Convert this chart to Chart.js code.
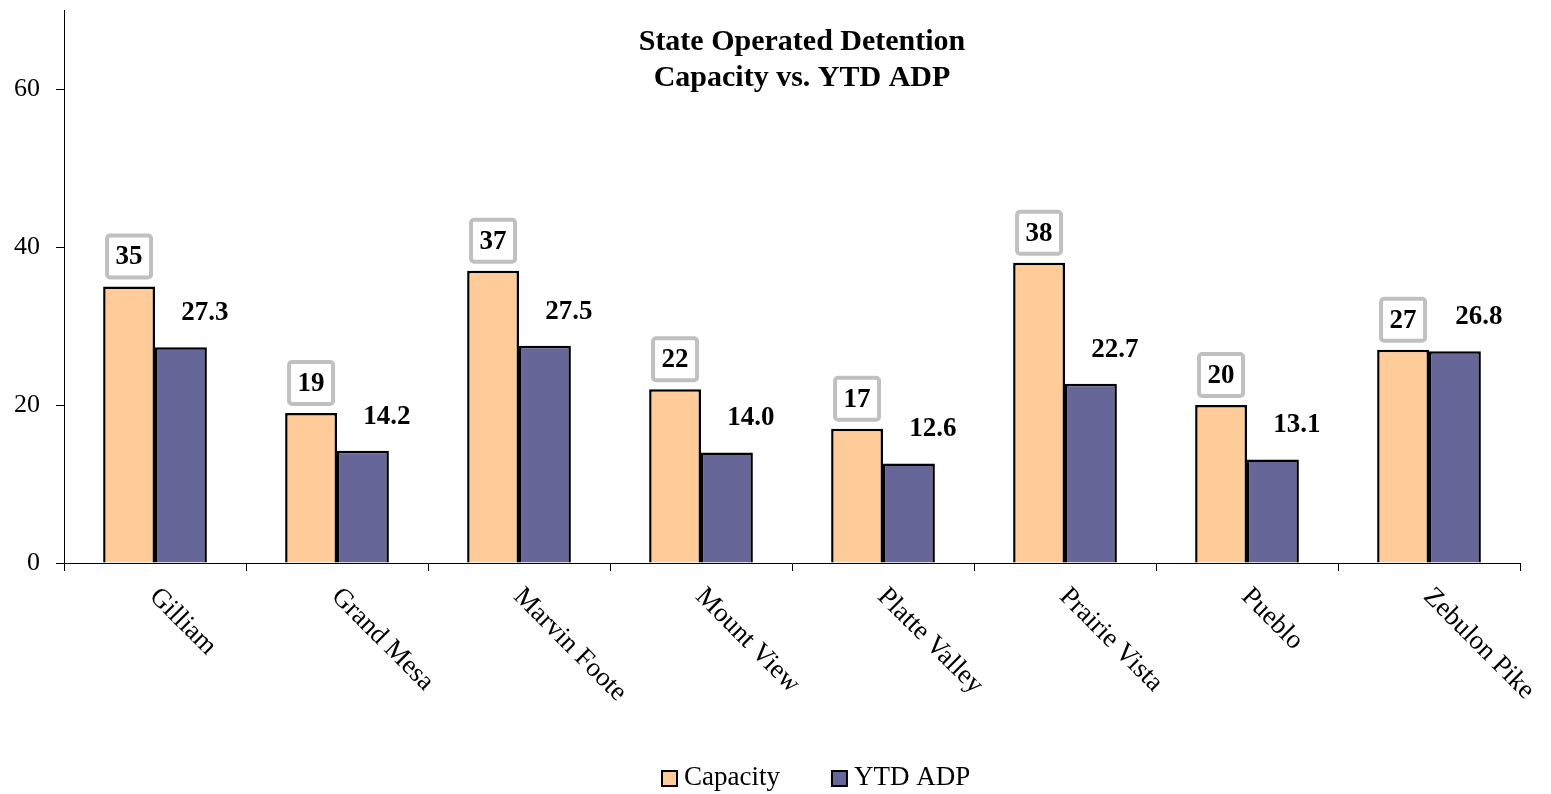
<!DOCTYPE html>
<html lang="en">
<head>
    <meta charset="UTF-8">
    <title>State Operated Detention</title>
    <script src="https://cdn.jsdelivr.net/npm/chart.js"></script>
    <style>
        html, body { margin: 0; padding: 0; background: #fff; }
        #wrap { width: 1551px; height: 794px; }
    </style>
</head>
<body>
    <div id="wrap"><canvas id="detentionChart"></canvas></div>
    <script>
        const facilities = ['Gilliam', 'Grand Mesa', 'Marvin Foote', 'Mount View', 'Platte Valley', 'Prairie Vista', 'Pueblo', 'Zebulon Pike'];
        const capacity = [35, 19, 37, 22, 17, 38, 20, 27];
        const ytdAdp = [27.3, 14.2, 27.5, 14.0, 12.6, 22.7, 13.1, 26.8];
        const yTicks = [0, 20, 40, 60];
        const titleLines = ['State Operated Detention', 'Capacity vs. YTD ADP'];

        const FONT = '"Liberation Serif", "DejaVu Serif", serif';

        // title, rotated category names, value labels and legend
        const overlay = {
            id: 'overlay',
            afterDraw(chart) {
                const ctx = chart.ctx;
                const xs = chart.scales.x;
                const area = chart.chartArea;
                ctx.save();
                ctx.fillStyle = '#000';

                // title
                ctx.font = 'bold 30px ' + FONT;
                ctx.textAlign = 'center';
                ctx.textBaseline = 'middle';
                titleLines.forEach((t, i) => ctx.fillText(t, 802, 42 + i * 36));

                // category labels, rotated down to the right
                ctx.font = '27px ' + FONT;
                ctx.textAlign = 'left';
                ctx.textBaseline = 'top';
                facilities.forEach((name, i) => {
                    const x = xs.getPixelForValue(i);
                    ctx.save();
                    ctx.translate(x + 8, area.bottom + 20);
                    ctx.rotate(Math.PI / 4);
                    ctx.fillText(name, 0, 0);
                    ctx.restore();
                });

                // value labels
                ctx.font = 'bold 27px ' + FONT;
                ctx.textAlign = 'center';
                ctx.textBaseline = 'middle';
                const capMeta = chart.getDatasetMeta(0);
                capMeta.data.forEach((bar, i) => {
                    const cx = bar.x;
                    const cy = bar.y - 30;
                    ctx.strokeStyle = '#c0c0c0';
                    ctx.lineWidth = 4;
                    ctx.beginPath();
                    ctx.roundRect(cx - 22, cy - 21, 44, 42, 3);
                    ctx.stroke();
                    ctx.fillStyle = '#000';
                    ctx.fillText(String(capacity[i]), cx, cy + 1);
                });
                const adpMeta = chart.getDatasetMeta(1);
                adpMeta.data.forEach((bar, i) => {
                    ctx.fillText(ytdAdp[i].toFixed(1), bar.x + 24, bar.y - 34);
                });

                // legend
                ctx.font = '27px ' + FONT;
                ctx.textAlign = 'left';
                ctx.textBaseline = 'middle';
                let lx = 662;
                const ly = 778;
                chart.data.datasets.forEach(ds => {
                    ctx.fillStyle = ds.backgroundColor;
                    ctx.fillRect(lx, ly - 7, 15, 15);
                    ctx.strokeStyle = '#000';
                    ctx.lineWidth = 2;
                    ctx.strokeRect(lx, ly - 7, 15, 15);
                    ctx.fillStyle = '#000';
                    ctx.fillText(ds.label, lx + 22, ly);
                    lx += 22 + ctx.measureText(ds.label).width + 52;
                });
                ctx.restore();
            }
        };

        const ctx = document.getElementById('detentionChart').getContext('2d');
        const detentionChart = new Chart(ctx, {
            type: 'bar',
            data: {
                labels: facilities,
                datasets: [{
                    label: 'Capacity',
                    data: capacity,
                    backgroundColor: '#ffcc99',
                    borderColor: '#000',
                    borderWidth: 2.5
                }, {
                    label: 'YTD ADP',
                    data: ytdAdp,
                    backgroundColor: '#666699',
                    borderColor: '#000',
                    borderWidth: 2.5
                }]
            },
            options: {
                responsive: true,
                maintainAspectRatio: false,
                animation: false,
                layout: { padding: { top: 10, right: 31, left: 0, bottom: 0 } },
                datasets: {
                    bar: { categoryPercentage: 0.57, barPercentage: 1 }
                },
                plugins: {
                    legend: { display: false },
                    title: { display: false },
                    tooltip: { enabled: false }
                },
                scales: {
                    x: {
                        offset: true,
                        grid: {
                            offset: true,
                            drawOnChartArea: false,
                            drawTicks: true,
                            tickLength: 8,
                            color: '#000'
                        },
                        border: { display: true, color: '#000', width: 1 },
                        ticks: { display: false },
                        afterFit: s => {
                            s.height = 231;
                            s.paddingLeft = 0;
                            s.paddingRight = 0;
                        }
                    },
                    y: {
                        min: 0,
                        max: 70,
                        grid: {
                            drawOnChartArea: false,
                            drawTicks: true,
                            tickLength: 8,
                            color: '#000'
                        },
                        border: { display: true, color: '#000', width: 1 },
                        ticks: {
                            stepSize: 20,
                            padding: 16,
                            color: '#000',
                            font: { family: FONT, size: 26 }
                        },
                        afterBuildTicks: s => {
                            s.ticks = yTicks.map(v => ({ value: v }));
                        },
                        afterFit: s => {
                            s.width = 64;
                            s.paddingTop = 0;
                            s.paddingBottom = 0;
                        }
                    }
                }
            },
            plugins: [overlay]
        });
    </script>
</body>
</html>
